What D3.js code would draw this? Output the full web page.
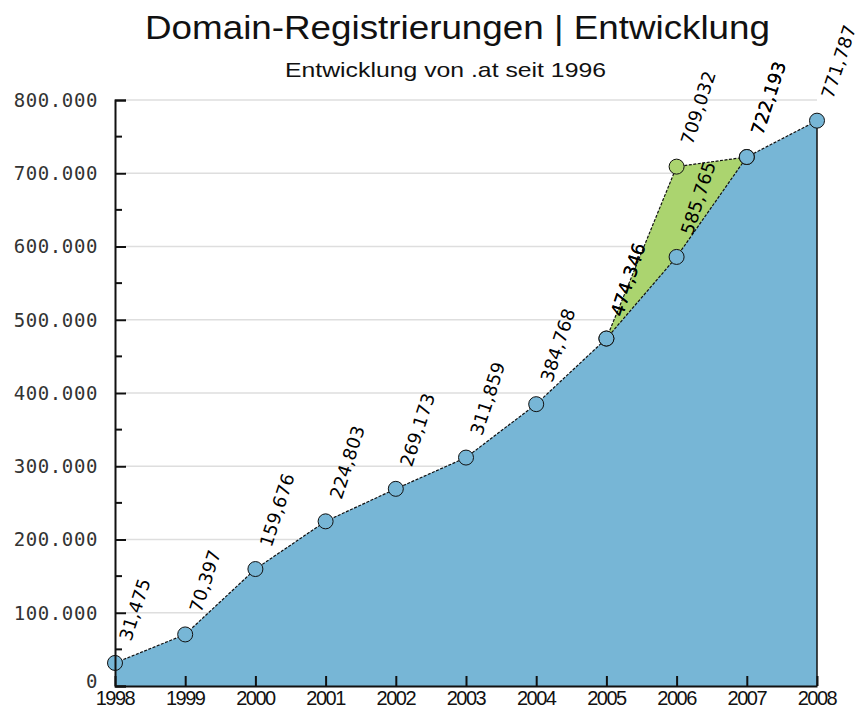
<!DOCTYPE html>
<html>
<head>
<meta charset="utf-8">
<script src="https://cdn.jsdelivr.net/npm/d3@7"></script>
<style>
  body { margin: 0; background: #fff; }
  svg { display: block; }
</style>
</head>
<body>
<div id="graph1"></div>
<script>
const years = ["1998", "1999", "2000", "2001", "2002", "2003", "2004", "2005", "2006", "2007", "2008"]
const domains = [31475, 70397, 159676, 224803, 269173, 311859, 384768, 474346, 585765, 722193, 771787]
const peak = [null, null, null, null, null, null, null, 474346, 709032, 722193, null]
const yTicks = [0, 100000, 200000, 300000, 400000, 500000, 600000, 700000, 800000]

const width = 859, height = 710
const margin = {left: 115, right: 42, top: 100, bottom: 24}

let svg = d3.select("#graph1")
    .append("svg")
    .attr("width", width)
    .attr("height", height)

let x = d3.scalePoint()
    .domain(years)
    .range([margin.left, width - margin.right])

let y = d3.scaleLinear()
    .domain([0, 800000])
    .range([height - margin.bottom, margin.top])

const fmtTick = d => d === 0 ? "0" : d3.format(",")(d).replace(/,/g, ".")
const fmtLabel = d3.format(",")

// title (the original font is a condensed face, so stretch to its width)
svg.append("text")
    .attr("x", 145).attr("y", 39)
    .attr("textLength", 625)
    .attr("lengthAdjust", "spacingAndGlyphs")
    .style("font-family", "Liberation Sans, Arial, sans-serif")
    .style("font-size", "34px")
    .attr("fill", "#111")
    .text("Domain-Registrierungen | Entwicklung")

svg.append("text")
    .attr("x", 285).attr("y", 77)
    .attr("textLength", 321)
    .attr("lengthAdjust", "spacingAndGlyphs")
    .style("font-family", "Liberation Sans, Arial, sans-serif")
    .style("font-size", "21px")
    .attr("fill", "#111")
    .text("Entwicklung von .at seit 1996")

// grid
svg.append("g")
    .selectAll("line")
    .data(yTicks.slice(1))
    .enter()
    .append("line")
    .attr("x1", margin.left + 10)
    .attr("x2", width - margin.right)
    .attr("y1", d => y(d))
    .attr("y2", d => y(d))
    .attr("stroke", "#dedede")
    .attr("stroke-width", 1.6)

// green series (drawn underneath)
let peakPts = years.map((yr, i) => ({year: yr, v: peak[i]})).filter(d => d.v !== null)
let mainPts = years.map((yr, i) => ({year: yr, v: domains[i]}))

let area = d3.area()
    .x(d => x(d.year))
    .y0(y(0))
    .y1(d => y(d.v))
let line = d3.line()
    .x(d => x(d.year))
    .y(d => y(d.v))

svg.append("path")
    .datum(peakPts)
    .attr("d", area)
    .attr("fill", "#abd46f")
svg.append("path")
    .datum(peakPts)
    .attr("d", line)
    .attr("fill", "none")
    .attr("stroke", "#111")
    .attr("stroke-width", 1.2)
    .attr("stroke-dasharray", "3,1.5")

svg.append("path")
    .datum(mainPts)
    .attr("d", area)
    .attr("fill", "#77b6d6")
svg.append("path")
    .datum(mainPts)
    .attr("d", line)
    .attr("fill", "none")
    .attr("stroke", "#111")
    .attr("stroke-width", 1.2)
    .attr("stroke-dasharray", "3,1.5")

// right edge of the area
let last = mainPts[mainPts.length - 1]
svg.append("line")
    .attr("x1", x(last.year)).attr("x2", x(last.year))
    .attr("y1", y(last.v)).attr("y2", y(0))
    .attr("stroke", "#111")
    .attr("stroke-width", 1.5)

// markers
svg.append("g")
    .selectAll("circle")
    .data(peakPts)
    .enter()
    .append("circle")
    .attr("cx", d => x(d.year))
    .attr("cy", d => y(d.v))
    .attr("r", 7.5)
    .attr("fill", "#abd46f")
    .attr("stroke", "#111")
    .attr("stroke-width", 1)

svg.append("g")
    .selectAll("circle")
    .data(mainPts)
    .enter()
    .append("circle")
    .attr("cx", d => x(d.year))
    .attr("cy", d => y(d.v))
    .attr("r", 7.5)
    .attr("fill", "#77b6d6")
    .attr("stroke", "#111")
    .attr("stroke-width", 1)

// value labels
let labels = svg.append("g")
    .style("font-family", "DejaVu Sans, sans-serif")
    .style("font-size", "18px")
    .style("letter-spacing", "0.2px")
    .attr("fill", "#000")
labels.selectAll("text.main")
    .data(mainPts)
    .enter()
    .append("text")
    .attr("class", "main")
    .attr("transform", d => `translate(${x(d.year) + 16},${y(d.v) - 21}) rotate(-72)`)
    .text(d => fmtLabel(d.v))
labels.selectAll("text.peak")
    .data(peakPts)
    .enter()
    .append("text")
    .attr("class", "peak")
    .attr("transform", d => `translate(${x(d.year) + 16},${y(d.v) - 21}) rotate(-72)`)
    .text(d => fmtLabel(d.v))

// y axis
let minor = d3.range(50000, 800000, 100000)
svg.append("g")
    .selectAll("line")
    .data(minor)
    .enter()
    .append("line")
    .attr("x1", margin.left).attr("x2", margin.left + 7)
    .attr("y1", d => y(d)).attr("y2", d => y(d))
    .attr("stroke", "#111").attr("stroke-width", 2)

let yAxis = svg.append("g")
    .attr("transform", `translate(${margin.left},0)`)
    .call(d3.axisRight(y).tickValues(yTicks).tickSize(11).tickFormat(""))
yAxis.select(".domain").attr("stroke", "#111").attr("stroke-width", 2)
yAxis.selectAll(".tick line").attr("stroke", "#111").attr("stroke-width", 2)

svg.append("g")
    .selectAll("text")
    .data(yTicks)
    .enter()
    .append("text")
    .attr("x", 98)
    .attr("y", d => y(d) - (d === 0 ? 5 : 0))
    .attr("dy", "0.36em")
    .attr("text-anchor", "end")
    .style("font-family", "DejaVu Sans Mono, monospace")
    .style("font-size", "19px")
    .style("letter-spacing", "0.6px")
    .attr("fill", "#333")
    .text(fmtTick)

// x axis
let xAxis = svg.append("g")
    .attr("transform", `translate(0,${y(0)})`)
    .call(d3.axisTop(x).tickSize(10).tickSizeOuter(0).tickFormat(""))
xAxis.select(".domain").attr("stroke", "#111").attr("stroke-width", 2)
xAxis.selectAll(".tick line").attr("stroke", "#111").attr("stroke-width", 2)

svg.append("g")
    .selectAll("text")
    .data(years)
    .enter()
    .append("text")
    .attr("x", d => x(d))
    .attr("y", 705)
    .attr("text-anchor", "middle")
    .style("font-family", "Liberation Sans, Arial, sans-serif")
    .style("font-size", "20px")
    .style("letter-spacing", "-1.5px")
    .attr("fill", "#111")
    .text(d => d)
</script>
</body>
</html>
